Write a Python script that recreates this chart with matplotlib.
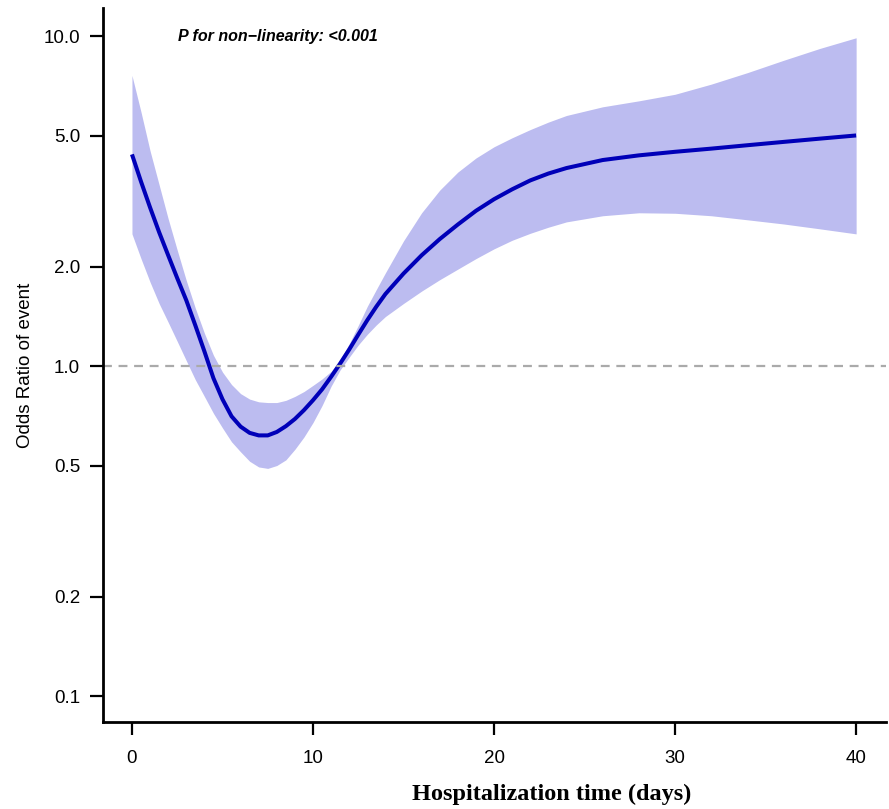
import matplotlib
matplotlib.use("Agg")
import matplotlib.pyplot as plt
from matplotlib.ticker import FixedLocator, NullLocator

# Valores (dias de hospitalizacion -> OR)
dias = [0, 0.5, 1, 1.5, 2, 2.5, 3, 3.5, 4, 4.5, 5, 5.5, 6, 6.5, 7, 7.5, 8, 8.5,
        9, 9.5, 10, 10.5, 11, 11.5, 12, 12.5, 13, 13.5, 14, 15, 16, 17, 18, 19,
        20, 21, 22, 23, 24, 26, 28, 30, 32, 34, 36, 38, 40]
or_centro = [4.39, 3.63, 3.03, 2.55, 2.17, 1.85, 1.585, 1.33, 1.11, 0.92, 0.794,
             0.705, 0.656, 0.628, 0.617, 0.617, 0.632, 0.658, 0.692, 0.736, 0.789,
             0.851, 0.929, 1.019, 1.124, 1.247, 1.38, 1.517, 1.656, 1.91, 2.17,
             2.43, 2.69, 2.96, 3.21, 3.44, 3.66, 3.84, 3.99, 4.22, 4.36, 4.47,
             4.57, 4.68, 4.79, 4.90, 5.01]
or_sup = [7.62, 5.90, 4.50, 3.55, 2.80, 2.25, 1.82, 1.50, 1.26, 1.08, 0.96,
          0.88, 0.826, 0.795, 0.78, 0.776, 0.776, 0.788, 0.81, 0.838, 0.875,
          0.915, 0.965, 1.045, 1.17, 1.33, 1.52, 1.71, 1.92, 2.40, 2.92, 3.42,
          3.88, 4.28, 4.63, 4.93, 5.22, 5.50, 5.76, 6.12, 6.38, 6.68, 7.17,
          7.77, 8.47, 9.20, 9.91]
or_inf = [2.52, 2.12, 1.80, 1.55, 1.36, 1.19, 1.04, 0.91, 0.81, 0.72, 0.65,
          0.59, 0.55, 0.515, 0.495, 0.49, 0.50, 0.52, 0.56, 0.61, 0.675,
          0.76, 0.87, 0.975, 1.065, 1.16, 1.25, 1.335, 1.415, 1.55, 1.69, 1.83,
          1.97, 2.12, 2.27, 2.41, 2.53, 2.64, 2.74, 2.86, 2.92, 2.91, 2.86,
          2.78, 2.70, 2.61, 2.52]

y_ticks = [0.1, 0.2, 0.5, 1.0, 2.0, 5.0, 10.0]
y_labels = ["0.1", "0.2", "0.5", "1.0", "2.0", "5.0", "10.0"]
x_ticks = [0, 10, 20, 30, 40]

fig = plt.figure(figsize=(8.89, 8.09), dpi=100)
ax = fig.add_axes([103/889, 1 - 722/809, (886 - 103)/889, (722 - 8)/809])

ax.fill_between(dias, or_inf, or_sup, color="#bcbcf0", linewidth=0)
ax.plot(dias, or_centro, color="#0000b8", linewidth=2.9, solid_capstyle="butt")
ax.axhline(1.0, color="#aaaaaa", linestyle=(0, (4, 3)), linewidth=1.6)

ax.set_yscale("log")
ax.set_ylim(0.0834, 12.2)
ax.set_xlim(-1.6, 41.65)
ax.yaxis.set_major_locator(FixedLocator(y_ticks))
ax.yaxis.set_minor_locator(NullLocator())
ax.set_yticklabels(y_labels)
ax.set_xticks(x_ticks)

for s in ["top", "right"]:
    ax.spines[s].set_visible(False)
for s in ["left", "bottom"]:
    ax.spines[s].set_linewidth(2)

ax.tick_params(axis="both", direction="out", length=9.4, width=1.6,
               labelsize=13.5)
ax.tick_params(axis="y", pad=7)
ax.tick_params(axis="x", pad=11)
for lab in ax.get_xticklabels() + ax.get_yticklabels():
    lab.set_fontfamily("Liberation Sans")

ax.set_ylabel("Odds Ratio of event", fontsize=13.5, family="Liberation Sans",
              labelpad=7)
fig.text(552/889, 1 - 794/809, "Hospitalization time (days)", ha="center",
         va="center", fontsize=17.5, fontweight="bold", family="Liberation Serif")

ax.text(2.54, 10.0, "P for non\u2212linearity: <0.001", fontsize=11.5,
        fontweight="bold", fontstyle="italic", family="Liberation Sans",
        ha="left", va="center")

fig.savefig("out.png", dpi=100)
